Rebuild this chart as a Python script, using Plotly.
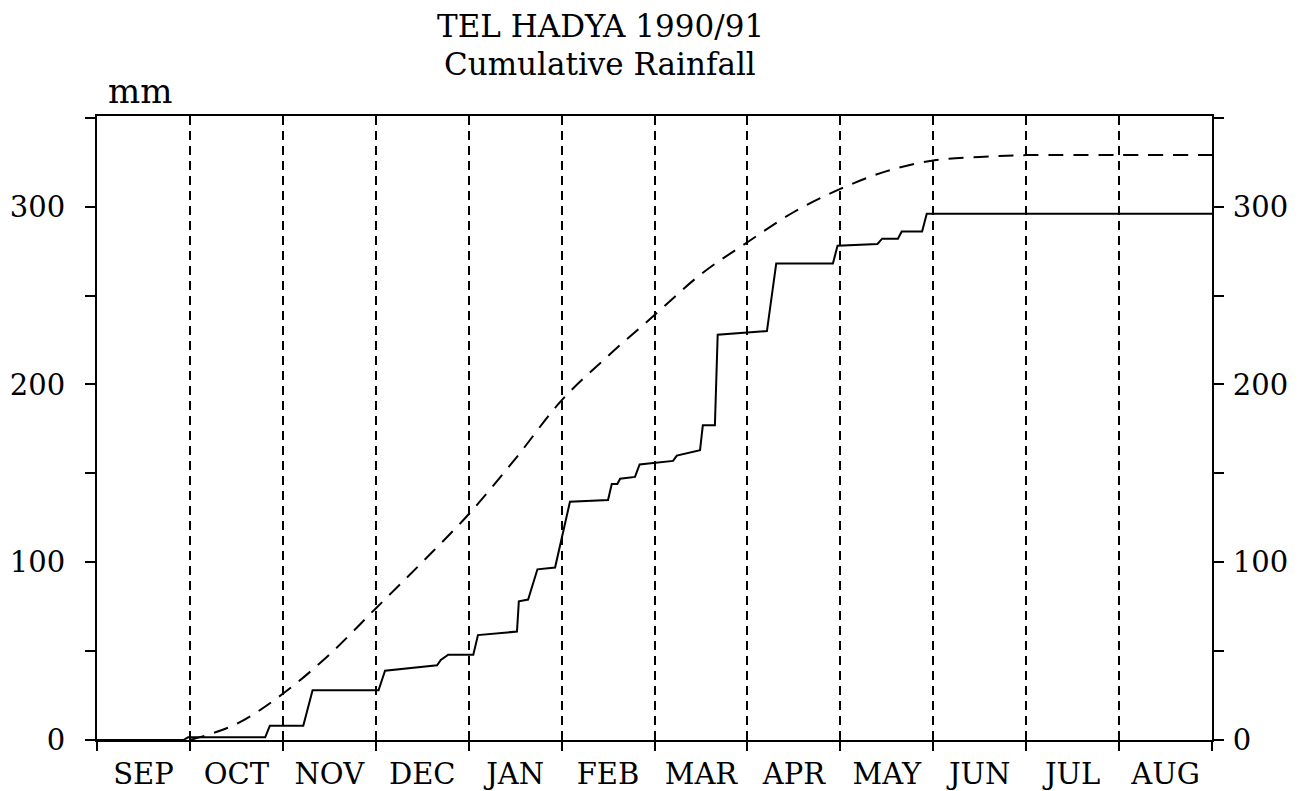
import plotly.graph_objects as go

# Month labels (Sep 1990 - Aug 1991); x is measured in months since 1 Sep
months = ["SEP", "OCT", "NOV", "DEC", "JAN", "FEB", "MAR", "APR", "MAY", "JUN", "JUL", "AUG"]
month_centers = [i + 0.5 for i in range(12)]
month_bounds = list(range(13))

# 1990/91 cumulative rainfall (mm)
rain_x = [0.00, 0.93, 0.98, 1.81, 1.86, 2.22, 2.32, 3.03, 3.10, 3.66, 3.70, 3.78, 4.05, 4.10,
          4.52, 4.54, 4.64, 4.74, 4.93, 5.09, 5.50, 5.54, 5.60, 5.63, 5.79, 5.84, 6.20, 6.24,
          6.49, 6.52, 6.65, 6.68, 7.21, 7.31, 7.92, 7.97, 8.40, 8.45, 8.62, 8.66, 8.88, 8.93, 12.0]
rain_y = [0, 0, 1.5, 1.5, 8, 8, 28, 28, 39, 42, 45, 48, 48, 59,
          61, 78, 79, 96, 97, 134, 135, 144, 144, 147, 148, 155, 157, 160,
          163, 177, 177, 228, 230, 268, 268, 278, 279, 282, 282, 286, 286, 296, 296]

# Long-term average cumulative rainfall (mm)
avg_x = [1.0, 1.5, 2.0, 2.5, 3.0, 3.5, 4.0, 4.5, 5.0, 5.5, 6.0, 6.5, 7.0, 7.5, 8.0, 8.5,
         9.0, 9.5, 10.0, 11.0, 12.0]
avg_y = [0, 9, 26, 48, 74, 100, 127, 158, 191, 216, 239, 262, 280, 297, 310, 320,
         326, 328, 329, 329, 329]

y_ticks = [0, 100, 200, 300]
y_range = [0, 351]

FONT = "DejaVu Serif"

W, H = 1314, 791
L, R, T, B = 97, 102, 116, 51

fig = go.Figure()
fig.add_trace(go.Scatter(x=avg_x, y=avg_y, mode="lines", yaxis="y2",
                         line=dict(color="black", width=2, dash="15px,10px", shape="spline"),
                         showlegend=False, hoverinfo="skip"))
fig.add_trace(go.Scatter(x=rain_x, y=rain_y, mode="lines",
                         line=dict(color="black", width=2),
                         showlegend=False, hoverinfo="skip"))

fig.update_layout(
    width=W, height=H,
    margin=dict(l=L, r=R, t=T, b=B, autoexpand=False),
    paper_bgcolor="white", plot_bgcolor="white",
    font=dict(family=FONT, color="black", size=24),
    xaxis=dict(
        range=[0, 12], tickmode="array", tickvals=month_centers, ticktext=months,
        ticks="", showgrid=False, zeroline=False, automargin=False,
        showline=True, linecolor="black", linewidth=2, mirror=True,
        tickfont=dict(family=FONT, size=29), ticklabelstandoff=7,
        minor=dict(tickmode="array", tickvals=month_bounds, ticks="outside", ticklen=9,
                   tickwidth=2, tickcolor="black", showgrid=True, gridcolor="black",
                   gridwidth=2, griddash="9px,6px"),
    ),
    yaxis=dict(
        range=y_range, tickvals=y_ticks, ticks="outside", ticklen=10, tickwidth=2,
        tickcolor="black", showgrid=False, zeroline=False, automargin=False,
        showline=True, linecolor="black", linewidth=2,
        tickfont=dict(family=FONT, size=29), ticklabelstandoff=14,
        minor=dict(dtick=50, tick0=0, ticks="outside", ticklen=10, tickwidth=2,
                   tickcolor="black", showgrid=False),
    ),
    yaxis2=dict(
        range=y_range, tickvals=y_ticks, ticks="outside", ticklen=10, tickwidth=2,
        tickcolor="black", showgrid=False, zeroline=False, overlaying="y", side="right",
        showline=True, linecolor="black", linewidth=2, automargin=False,
        tickfont=dict(family=FONT, size=29), ticklabelstandoff=3,
        minor=dict(dtick=50, tick0=0, ticks="outside", ticklen=10, tickwidth=2,
                   tickcolor="black", showgrid=False),
    ),
)

# annotations positioned in page pixel coordinates
notes = [("TEL HADYA 1990/91", 600, 26, 31),
         ("Cumulative Rainfall", 600, 64, 31),
         ("mm", 140, 91, 34)]
pw, ph = W - L - R, H - T - B
for text, px, py, size in notes:
    fig.add_annotation(text=text, xref="paper", yref="paper",
                       x=(px - L) / pw, y=(H - B - py) / ph,
                       xanchor="center", yanchor="middle", showarrow=False,
                       font=dict(family=FONT, size=size))

# remove the default 8px page margin so the figure fills the window exactly
fig.write_html("out.html", config={"displayModeBar": False},
               post_script="document.body.style.margin='0';document.body.style.overflow='hidden';")
